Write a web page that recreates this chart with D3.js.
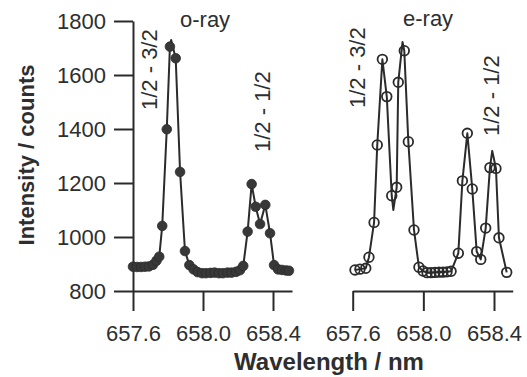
<!DOCTYPE html>
<html>
<head>
<meta charset="utf-8">
<script src="https://cdn.jsdelivr.net/npm/d3@7"></script>
<style>
  body { margin: 0; background: #fff; }
  svg text { font-family: "Liberation Sans", Arial, sans-serif; fill: #2e2e2e; }
</style>
</head>
<body>
<svg id="chart" width="527" height="377"></svg>
<script>
// o-ray spectrum (filled points)
const oWavelength = [657.600, 657.623, 657.646, 657.669, 657.691, 657.714, 657.734, 657.750, 657.767, 657.793,
    657.811, 657.844, 657.869, 657.897, 657.922, 657.946, 657.969, 657.994, 658.017, 658.043,
    658.066, 658.091, 658.114, 658.140, 658.163, 658.189, 658.211, 658.230, 658.255, 658.278,
    658.301, 658.326, 658.356, 658.383, 658.406, 658.429, 658.451, 658.474, 658.491];
const oCounts = [890, 889, 889, 890, 891, 897, 912, 927, 1041, 1399,
    1705, 1662, 1241, 948, 896, 880, 870, 866, 866, 867,
    868, 866, 866, 868, 868, 871, 877, 893, 1020, 1196,
    1112, 1048, 1119, 1014, 896, 880, 878, 876, 875];
// fitted curve tips that rise above the measured points
const oTipWavelength = [657.818];
const oTipCounts = [1730];

// e-ray spectrum (open points)
const eWavelength = [657.613, 657.641, 657.674, 657.692, 657.721, 657.739, 657.768, 657.793, 657.821, 657.849,
    657.858, 657.892, 657.915, 657.947, 657.975, 657.998, 658.021, 658.043, 658.066, 658.089,
    658.111, 658.134, 658.157, 658.198, 658.221, 658.249, 658.277, 658.302, 658.325, 658.353,
    658.377, 658.411, 658.428, 658.472];
const eCounts = [878, 881, 884, 925, 1054, 1341, 1658, 1520, 1153, 1184,
    1573, 1690, 1353, 1026, 888, 874, 868, 868, 869, 870,
    870, 871, 873, 940, 1208, 1384, 1178, 946, 917, 1033,
    1257, 1254, 997, 869];
const eTipWavelength = [657.830, 657.882, 658.390];
const eTipCounts = [1100, 1722, 1319];

const yTicks = [800, 1000, 1200, 1400, 1600, 1800];
const xTicks = [657.6, 658.0, 658.4];

const ink = '#2b2b2b';
const svg = d3.select('#chart');

const y = d3.scaleLinear().domain([800, 1800]).range([291, 21]);
const xLeft = d3.scaleLinear().domain([657.6, 658.4]).range([133, 273]);
const xRight = d3.scaleLinear().domain([657.6, 658.4]).range([352.7, 494]);

// y axis
const yAxis = svg.append('g')
    .attr('transform', 'translate(133,0)')
    .call(d3.axisLeft(y).tickValues(yTicks).tickFormat(d3.format('d'))
        .tickSize(19).tickSizeOuter(0).tickPadding(8));
yAxis.selectAll('text').style('font-size', '22px');

function drawPanel(x, axisEnd, wl, counts, tipWl, tipCounts, filled) {
    const xAxisScale = x.copy().domain([657.6, x.invert(axisEnd)]).range([x(657.6), axisEnd]);
    const g = svg.append('g')
        .attr('transform', 'translate(0,291)')
        .call(d3.axisBottom(xAxisScale).tickValues(xTicks).tickFormat(d3.format('.1f'))
            .tickSize(20).tickSizeOuter(0).tickPadding(14));
    g.selectAll('text').style('font-size', '22px');

    const pts = wl.map((w, i) => ({ w: w, c: counts[i] }));
    const linePts = pts.concat(tipWl.map((w, i) => ({ w: w, c: tipCounts[i] })))
        .sort((a, b) => a.w - b.w);

    svg.append('path')
        .datum(linePts)
        .attr('fill', 'none')
        .attr('stroke', ink)
        .attr('stroke-width', 2)
        .attr('stroke-linejoin', 'round')
        .attr('d', d3.line().x(d => x(d.w)).y(d => y(d.c)));

    svg.append('g').selectAll('circle')
        .data(pts)
        .enter()
        .append('circle')
        .attr('cx', d => x(d.w))
        .attr('cy', d => y(d.c))
        .attr('r', 4.8)
        .attr('fill', filled ? '#383838' : 'none')
        .attr('stroke', ink)
        .attr('stroke-width', filled ? 0.8 : 1.8);
}

drawPanel(xLeft, 292, oWavelength, oCounts, oTipWavelength, oTipCounts, true);
drawPanel(xRight, 512.7, eWavelength, eCounts, eTipWavelength, eTipCounts, false);

svg.selectAll('.domain, .tick line').attr('stroke', ink).attr('stroke-width', 2);

// panel titles
svg.append('text').attr('x', 180).attr('y', 27).style('font-size', '22px').text('o-ray');
svg.append('text').attr('x', 403).attr('y', 26).style('font-size', '22px').text('e-ray');

// transition labels (rotated)
const labels = [
    { text: '1/2 - 3/2', x: 157, y: 110 },
    { text: '1/2 - 1/2', x: 270, y: 152 },
    { text: '1/2 - 3/2', x: 365, y: 108 },
    { text: '1/2 - 1/2', x: 499, y: 136 }
];
svg.selectAll('.trans')
    .data(labels)
    .enter()
    .append('text')
    .attr('class', 'trans')
    .attr('transform', d => 'translate(' + d.x + ',' + d.y + ') rotate(-90)')
    .style('font-size', '22px')
    .text(d => d.text);

// axis titles
svg.append('text')
    .attr('x', 329).attr('y', 370)
    .attr('text-anchor', 'middle')
    .style('font-size', '24px').style('font-weight', 'bold')
    .text('Wavelength / nm');
svg.append('text')
    .attr('transform', 'translate(34,155) rotate(-90)')
    .attr('text-anchor', 'middle')
    .style('font-size', '22px').style('font-weight', 'bold')
    .text('Intensity / counts');
</script>
</body>
</html>
